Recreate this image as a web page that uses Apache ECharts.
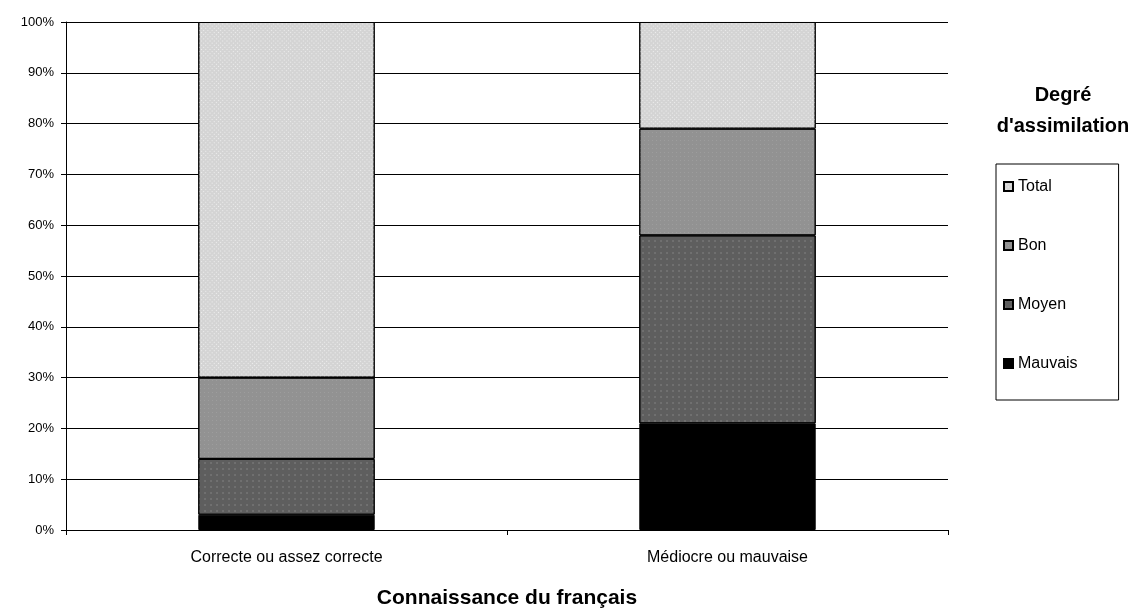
<!DOCTYPE html>
<html><head><meta charset="utf-8">
<script src="https://cdn.jsdelivr.net/npm/echarts@6/dist/echarts.min.js"></script>
<style>html,body{margin:0;padding:0;background:#fff}#c{width:1141px;height:610px}</style>
</head><body><div id="c"></div>
<script>
const categories = ['Correcte ou assez correcte', 'Médiocre ou mauvaise'];
const mauvais = [3, 21];
const moyen = [11, 37];
const bon = [16, 21];
const total = [70, 21];
const yTicks = [0, 10, 20, 30, 40, 50, 60, 70, 80, 90, 100];

const F = '"Liberation Sans", Arial, sans-serif';
const chart = echarts.init(document.getElementById('c'), null, {renderer: 'canvas'});
function mk(name, data, color, decal) {
  return {
    name, type: 'bar', stack: 's', data, barWidth: '40%',
    itemStyle: {color, borderColor: '#000', borderWidth: 1, decal},
    emphasis: {disabled: true}
  };
}
chart.setOption({
  backgroundColor: '#fff',
  animation: false,
  textStyle: {fontFamily: F},
  title: [{
    text: 'Degré\nd\'assimilation', left: 1058, top: 75, textAlign: 'center',
    textStyle: {fontFamily: F, fontSize: 20, fontWeight: 'bold', color: '#000', lineHeight: 31}
  }],
  legend: {
    orient: 'vertical', left: 996, top: 164,
    data: ['Total', 'Bon', 'Moyen', 'Mauvais'],
    itemWidth: 9, itemHeight: 9, itemGap: 42,
    padding: [14, 41, 28, 7],
    borderColor: '#000', borderWidth: 1,
    icon: 'rect',
    textStyle: {fontFamily: F, fontSize: 16, lineHeight: 17, color: '#000'},
    selectedMode: false
  },
  grid: {left: 66, right: 193, top: 22, bottom: 80, outerBoundsMode: 'none', containLabel: false},
  xAxis: {
    type: 'category', data: categories,
    axisLine: {lineStyle: {color: '#000', width: 1}},
    axisTick: {show: true, length: 5, lineStyle: {color: '#000'}},
    axisLabel: {color: '#000', fontSize: 16, margin: 20, fontFamily: F},
    name: 'Connaissance du français', nameLocation: 'middle', nameGap: 58,
    nameTextStyle: {color: '#000', fontSize: 21, fontWeight: 'bold', fontFamily: F}
  },
  yAxis: {
    type: 'value', min: 0, max: 100, interval: 10,
    axisLine: {show: true, lineStyle: {color: '#000', width: 1}},
    axisTick: {show: true, length: 5, lineStyle: {color: '#000'}},
    axisLabel: {color: '#000', fontSize: 13, margin: 12, formatter: v => yTicks.includes(v) ? v + '%' : ''},
    splitLine: {lineStyle: {color: '#000', width: 1}}
  },
  series: [
    mk('Mauvais', mauvais, '#000', null),
    mk('Moyen', moyen, '#5e5e5e', {symbol: 'rect', symbolSize: 0.6, color: '#9a9a9a', dashArrayX: [2, 4], dashArrayY: [2, 4]}),
    mk('Bon', bon, '#929292', {symbol: 'rect', symbolSize: 0.6, color: '#b8b8b8', dashArrayX: [1, 3], dashArrayY: [1, 3]}),
    mk('Total', total, '#d4d4d4', {symbol: 'rect', symbolSize: 0.8, color: '#f4f4f4', rotation: Math.PI / 4, dashArrayX: [1, 2], dashArrayY: [1, 2]})
  ]
});
</script></body></html>
